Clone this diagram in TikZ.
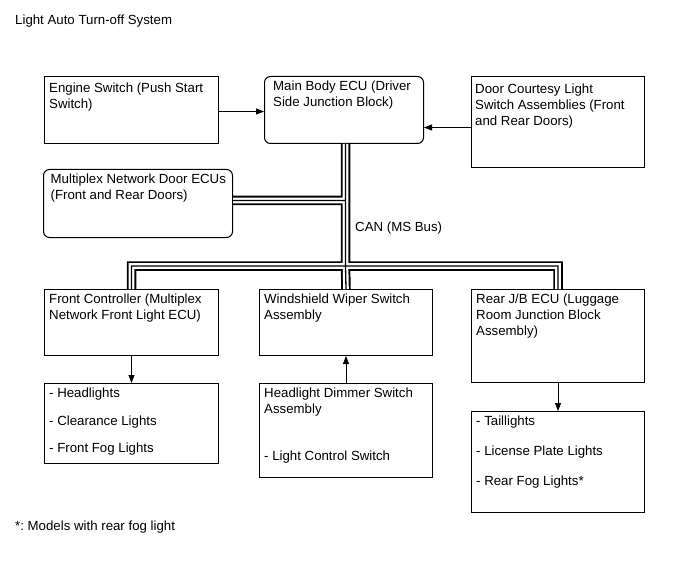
\documentclass[tikz,border=0pt]{standalone}
\usepackage{fontspec}
\setmainfont{Liberation Sans}
\usetikzlibrary{arrows.meta}
\newcommand\schemafont{\fontsize{13.3}{16}\selectfont\frenchspacing}

\begin{document}
\begin{tikzpicture}[x=1bp, y=-1bp,
        boite/.style={draw, line width=1bp, anchor=north west, inner sep=0pt},
        arrondi/.style={boite, rounded corners=6bp},
        lbl/.style={anchor=north west, inner sep=0pt, align=left, font=\schemafont, xshift=5bp, yshift=-5bp},
        texte/.style={anchor=base west, inner sep=0pt, font=\schemafont},
        fleche/.style={-{Triangle[length=8bp,width=6bp]}, line width=0.8bp},
        bus/.style={line width=9.5bp, line join=miter,
            postaction={draw, white, line width=5.6bp, line join=miter},
            postaction={draw, black, line width=1.3bp, line join=miter}}]
        \useasboundingbox (0,0) rectangle (690,562);

        % Titre
        \node[texte] (titre) at (15,25) {Light Auto Turn-off System};

        % Boites du haut
        \node[boite, minimum width=174bp, minimum height=67bp,
            label={[lbl, yshift=-1.5bp]north west:{Engine Switch (Push Start\\Switch)}}] (moteur) at (44,76) {};
        \node[arrondi, minimum width=159bp, minimum height=67bp,
            label={[lbl, xshift=4bp]north west:{Main Body ECU (Driver\\Side Junction Block)}}] (bcm) at (264,76) {};
        \node[boite, minimum width=173bp, minimum height=91bp,
            label={[lbl, xshift=-1bp, yshift=-2.5bp]north west:{Door Courtesy Light\\Switch Assemblies (Front\\and Rear Doors)}}] (portes) at (471,76) {};
        \node[arrondi, minimum width=189bp, minimum height=68bp,
            label={[lbl, xshift=2.5bp]north west:{Multiplex Network Door ECUs\\(Front and Rear Doors)}}] (multiplex) at (43,169) {};

        % Calculateurs sur le bus
        \node[boite, minimum width=174bp, minimum height=66bp,
            label={[lbl]north west:{Front Controller (Multiplex\\Network Front Light ECU)}}] (avant) at (44,289) {};
        \node[boite, minimum width=173bp, minimum height=66bp,
            label={[lbl]north west:{Windshield Wiper Switch\\Assembly}}] (essuie) at (259,289) {};
        \node[boite, minimum width=173bp, minimum height=93bp,
            label={[lbl]north west:{Rear J/B ECU (Luggage\\Room Junction Block\\Assembly)}}] (arriere) at (471,289) {};

        % Boites du bas
        \node[boite, minimum width=174bp, minimum height=80bp,
            label={[lbl]north west:{- Headlights\\[11.5bp]- Clearance Lights\\[11.5bp]- Front Fog Lights}}] (phares) at (44,383) {};
        \node[boite, minimum width=173bp, minimum height=94bp,
            label={[lbl]north west:{Headlight Dimmer Switch\\Assembly\\[31bp]- Light Control Switch}}] (commodo) at (259,383) {};
        \node[boite, minimum width=173bp, minimum height=101bp,
            label={[lbl]north west:{- Taillights\\[14bp]- License Plate Lights\\[14bp]- Rear Fog Lights*}}] (feux) at (471,411) {};

        % Bus CAN
        \coordinate (can) at (345.5,266);
        \draw[bus] (avant.north) -- (avant.north |- can) -- (arriere.north |- can) -- (arriere.north)
            (can |- bcm.south) -- (can) -- (essuie.north)
            ([yshift=3bp]multiplex.east) -- ([yshift=3bp]multiplex.east -| can);
        \node[texte] (canlbl) at (355,232) {CAN (MS Bus)};

        % Fleches
        \draw[fleche] ([yshift=-1.5bp]moteur.east) -- ([yshift=-1.5bp]moteur.east -| bcm.west);
        \draw[fleche] ([yshift=-5.5bp]portes.west) -- ([yshift=-5.5bp]portes.west -| bcm.east);
        \draw[fleche] (avant.south) -- (phares.north);
        \draw[fleche] (commodo.north) -- (essuie.south);
        \draw[fleche] (arriere.south) -- (feux.north);

        % Note
        \node[texte] (note) at (15,530) {*: Models with rear fog light};
    \end{tikzpicture}
\end{document}
